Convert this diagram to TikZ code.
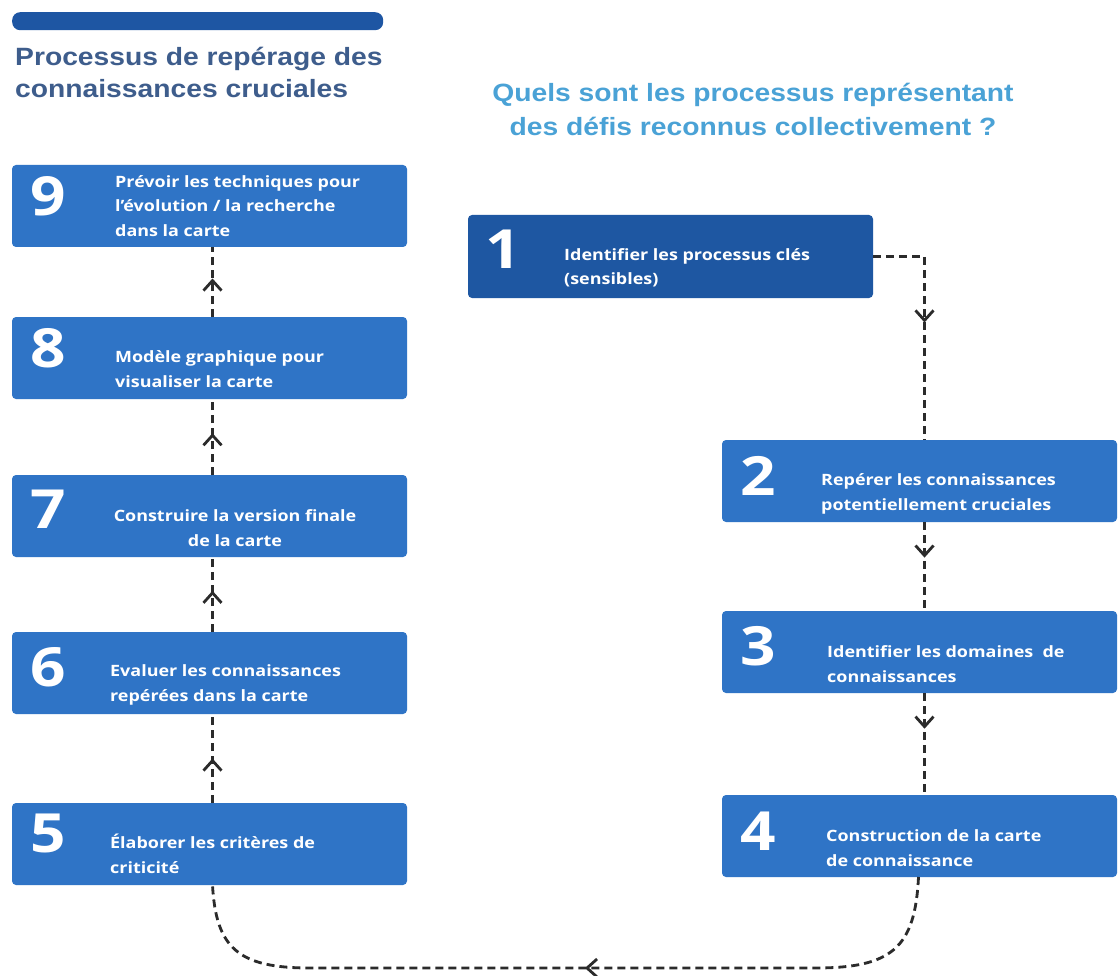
\documentclass[tikz,border=0pt]{standalone}
\usepackage{fontspec}
\newfontfamily\titlefont{Liberation Sans}[FakeStretch=1.13]
\newfontfamily\boxfont{Open Sans}[FakeStretch=1.15]
\usetikzlibrary{arrows.meta,decorations.markings}

\definecolor{boxblue}{HTML}{2F74C6}
\definecolor{boxdark}{HTML}{1E57A2}
\definecolor{barblue}{HTML}{1E56A3}
\definecolor{titleslate}{HTML}{3E5D8C}
\definecolor{titlesky}{HTML}{4AA2D6}
\definecolor{linkgray}{HTML}{2B2B2B}

\begin{document}
\begin{tikzpicture}[x=1pt,y=-1pt,
  stepbox/.style={fill=boxblue, rounded corners=4pt, inner sep=0pt, outer sep=0pt,
    anchor=north west, minimum width=395pt, minimum height=82pt},
  keybox/.style={stepbox, fill=boxdark, minimum width=405pt, minimum height=83pt},
  stepnum/.style={font=\boxfont\bfseries\fontsize{54}{54}\selectfont, text=white,
    inner sep=0pt, anchor=base west},
  steptext/.style={font=\boxfont\bfseries\fontsize{15.6}{24.5}\selectfont, text=white,
    inner sep=0pt, anchor=west, align=left},
  link/.style={draw=linkgray, line width=2.8pt, dash pattern=on 8pt off 5pt},
  midtip/.style={postaction={decorate}, decoration={markings,
    mark=at position #1 with {\arrow{Straight Barb[length=10pt,width=18pt,line width=2.8pt]}}}},
]
\useasboundingbox (0,0) rectangle (1118,976);
\fill[white] (0,0) rectangle (1118,976);

% header bar and titles
\node[fill=barblue, rounded corners=8pt, inner sep=0pt, anchor=north west,
      minimum width=371pt, minimum height=18pt] (bar) at (12,12) {};
\node[font=\titlefont\bfseries\fontsize{25}{32}\selectfont, text=titleslate,
      align=left, inner sep=0pt, anchor=west] (ltitle) at (15,72)
  {Processus de repérage des\\connaissances cruciales};
\node[font=\titlefont\bfseries\fontsize{25}{34}\selectfont, text=titlesky,
      align=center, inner sep=0pt] (rtitle) at (753,109)
  {Quels sont les processus représentant\\des défis reconnus collectivement ?};

% left column, steps 5 to 9
\node[stepbox] (b9) at (12,165) {};
\node[stepnum] (n9) at (30,216) {9};
\node[steptext] (t9) at (115,206) {Prévoir les techniques pour\\l’évolution / la recherche\\dans la carte};

\node[stepbox] (b8) at (12,317) {};
\node[stepnum] (n8) at (30,367) {8};
\node[steptext] (t8) at (115,369) {Modèle graphique pour\\visualiser la carte};

\node[stepbox] (b7) at (12,475) {};
\node[stepnum] (n7) at (30,528) {7};
\node[steptext, align=center, anchor=center] (t7) at (235,528) {Construire la version finale\\de la carte};

\node[stepbox] (b6) at (12,632) {};
\node[stepnum] (n6) at (30,686) {6};
\node[steptext] (t6) at (110,685) {Evaluer les connaissances\\repérées dans la carte};

\node[stepbox] (b5) at (12,803) {};
\node[stepnum] (n5) at (30,852) {5};
\node[steptext] (t5) at (110,854) {Élaborer les critères de\\criticité};

% right column, steps 1 to 4
\node[keybox] (b1) at (468,215) {};
\node[stepnum] (n1) at (485,269) {1};
\node[steptext] (t1) at (564,268) {Identifier les processus clés\\(sensibles)};

\node[stepbox] (b2) at (722,440) {};
\node[stepnum] (n2) at (740,495) {2};
\node[steptext] (t2) at (821,494) {Repérer les connaissances\\potentiellement cruciales};

\node[stepbox] (b3) at (722,611) {};
\node[stepnum] (n3) at (740,665) {3};
\node[steptext] (t3) at (827,664) {Identifier les domaines~ de\\connaissances};

\node[stepbox] (b4) at (722,795) {};
\node[stepnum] (n4) at (740,850) {4};
\node[steptext] (t4) at (826,848) {Construction de la carte\\de connaissance};

% connectors
\draw[link, midtip=0.5] (b1.east) -| ([xshift=5pt]b2.north);
\draw[link, midtip=0.4] ([xshift=5pt]b2.south) -- ([xshift=5pt]b3.north);
\draw[link, midtip=0.35] ([xshift=5pt]b3.south) -- ([xshift=5pt]b4.north);
\draw[link, midtip=0.48] ([xshift=-1pt]b4.south)
  .. controls (915,948) and (892,968) .. (815,968) -- (310,968)
  .. controls (238,968) and (216,948) .. ([xshift=3pt]b5.south);
\draw[link, midtip=0.5] ([xshift=3pt]b5.north) -- ([xshift=3pt]b6.south);
\draw[link, midtip=0.55] ([xshift=3pt]b6.north) -- ([xshift=3pt]b7.south);
\draw[link, midtip=0.55] ([xshift=3pt]b7.north) -- ([xshift=3pt]b8.south);
\draw[link, midtip=0.55] ([xshift=3pt]b8.north) -- ([xshift=3pt]b9.south);
\end{tikzpicture}
\end{document}
